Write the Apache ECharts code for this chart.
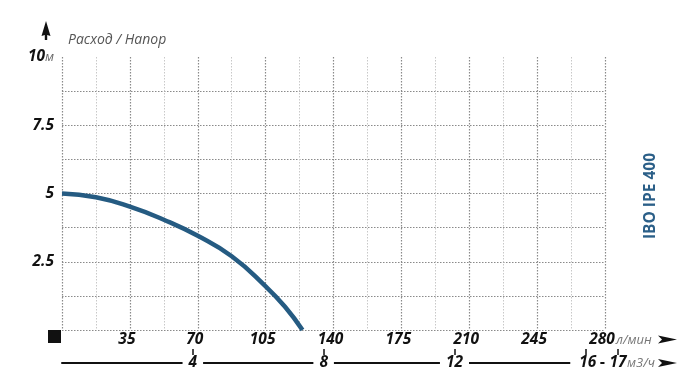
<!DOCTYPE html>
<html>
<head>
<meta charset="utf-8">
<script src="https://cdn.jsdelivr.net/npm/echarts@6/dist/echarts.min.js"></script>
<style>html,body{margin:0;padding:0;background:#fff;}#c{width:700px;height:383px;}</style>
</head>
<body>
<div id="c"></div>
<script>
// Data
const flowTicks = [35, 70, 105, 140, 175, 210, 245, 280];      // л/мин
const headTicks = [2.5, 5, 7.5, 10];                            // м
const m3hTicks = [4, 8, 12, 16, 17];                            // м3/ч
const curveFlow = [0, 17.5, 35, 52.5, 70, 87.5, 105, 115, 124];
const curveHead = [5.0, 4.86, 4.52, 4.04, 3.45, 2.7, 1.6, 0.85, 0];
const title = 'Расход / Напор';
const model = 'IBO IPE 400';

const BLUE = '#255b82';
const FONT = '"Open Sans", "DejaVu Sans", sans-serif';
const chart = echarts.init(document.getElementById('c'), null, {renderer: 'canvas'});
const darkDot = {color: '#8a8a8a', width: 1.2, type: [1.5, 1.5]};
const lightDot = {color: '#c8c8c8', width: 1, type: [1.5, 1.5]};

const lbl = {fontFamily: FONT, fontStyle: 'italic', fontWeight: 'bold', fontSize: 15.5, color: '#111'};

chart.setOption({
  animation: false,
  backgroundColor: '#fff',
  grid: [
    {left: 62, top: 57, width: 543, height: 273},
    {left: 62, top: 300, width: 556, height: 63}
  ],
  xAxis: [
    {
      gridIndex: 0, type: 'value', min: 0, max: 280, interval: 35,
      axisLine: {show: false}, axisTick: {show: false},
      axisLabel: Object.assign({}, lbl, {
        margin: 2,
        customValues: flowTicks,
        padding: [0, 6, 0, 0],
        formatter: v => String(v)
      }),
      splitLine: {show: true, showMinLine: true, showMaxLine: true, lineStyle: darkDot},
      minorTick: {show: false, splitNumber: 2},
      minorSplitLine: {show: true, lineStyle: lightDot}
    },
    {
      gridIndex: 1, type: 'value', min: 0, max: 17, position: 'bottom',
      axisLine: {show: true, lineStyle: {color: '#111', width: 2}},
      axisTick: {show: true, inside: true, length: 14, customValues: m3hTicks, lineStyle: {color: '#111', width: 1.5}},
      splitLine: {show: false},
      axisLabel: {
        show: true, margin: 0, verticalAlign: 'middle',
        customValues: m3hTicks,
        formatter: v => v === 16 ? '{l|16}' : (v === 17 ? '{r|17}' : '{n|' + v + '}'),
        rich: {
          n: Object.assign({}, lbl, {backgroundColor: '#fff', padding: [0, 6, 0, 6], lineHeight: 18}),
          l: Object.assign({}, lbl, {backgroundColor: '#fff', padding: [0, 4, 0, 9], lineHeight: 18}),
          r: Object.assign({}, lbl, {backgroundColor: '#fff', padding: [0, 5, 0, 5], lineHeight: 18})
        }
      }
    }
  ],
  yAxis: [
    {
      gridIndex: 0, type: 'value', min: 0, max: 10, interval: 2.5,
      axisLine: {show: false}, axisTick: {show: false},
      axisLabel: {
        margin: 8,
        customValues: headTicks,
        formatter: v => v === 10 ? '{b|10}{u|м}' : '{b|' + v + '}',
        rich: {
          b: Object.assign({}, lbl),
          u: {fontFamily: FONT, fontStyle: 'italic', fontSize: 13, color: '#666'}
        }
      },
      splitLine: {show: true, showMinLine: true, showMaxLine: false, lineStyle: darkDot},
      minorTick: {show: false, splitNumber: 2},
      minorSplitLine: {show: true, lineStyle: darkDot}
    },
    {gridIndex: 1, type: 'value', show: false}
  ],
  series: [{
    type: 'line', xAxisIndex: 0, yAxisIndex: 0,
    smooth: true, symbol: 'none', clip: false,
    lineStyle: {color: BLUE, width: 4.5, cap: 'butt'},
    data: curveFlow.map((f, i) => [f, curveHead[i]])
  }],
  graphic: [
    {type: 'polygon', shape: {points: [[46, 21], [50.5, 36], [47.2, 35], [47.2, 40], [44.8, 40], [44.8, 35], [41.5, 36]]}, style: {fill: '#111'}},
    {type: 'text', x: 68, y: 40, style: {text: title, fontFamily: FONT, fontStyle: 'italic', fontSize: 14, fill: '#555', verticalAlign: 'middle'}},
    {type: 'rect', shape: {x: 48, y: 330, width: 13, height: 13}, style: {fill: '#111'}},
    {type: 'text', x: 616, y: 340, style: {text: 'л/мин', fontFamily: FONT, fontStyle: 'italic', fontSize: 13, fill: '#777', verticalAlign: 'middle'}},
    {type: 'polygon', shape: {points: [[658, 335.5], [677, 339.5], [658, 343.5], [662, 339.5]]}, style: {fill: '#111'}},
    {type: 'text', x: 627, y: 363, z: 10, style: {text: 'м3/ч', fontFamily: FONT, fontStyle: 'italic', fontSize: 13, fill: '#777', verticalAlign: 'middle'}},
    {type: 'polygon', shape: {points: [[658, 359], [677, 363], [658, 367], [662, 363]]}, style: {fill: '#111'}},
    {type: 'text', x: 651, y: 196, rotation: Math.PI / 2, style: {text: model, fontFamily: FONT, fontWeight: 'bold', fontSize: 15.5, fill: '#2b5f88', align: 'center', verticalAlign: 'middle'}}
  ]
});
</script>
</body>
</html>
